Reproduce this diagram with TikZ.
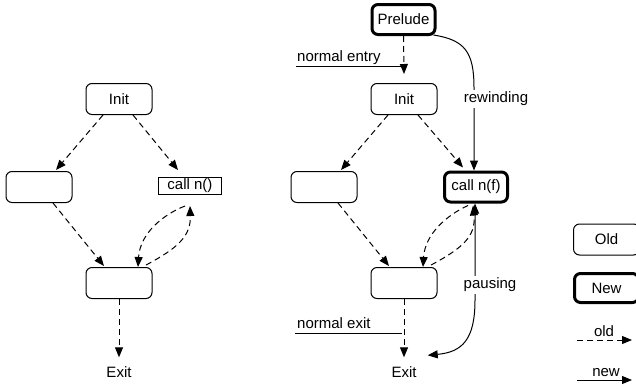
\documentclass[tikz,border=0pt]{standalone}
\usepackage{fontspec}
\setmainfont{Liberation Sans}
\usetikzlibrary{arrows.meta}
\begin{document}
\begin{tikzpicture}[x=1pt,y=-1pt,
  font=\fontsize{15}{18}\selectfont,
  >={Triangle[length=10pt,width=8pt]},
  oldbox/.style={draw,rounded corners=6pt,line width=1pt,minimum width=66pt,minimum height=31pt,inner sep=0pt},
  newbox/.style={draw,rounded corners=6pt,line width=3pt,minimum width=63pt,minimum height=30pt,inner sep=0pt},
  callbox/.style={draw,line width=1pt,minimum width=63pt,minimum height=17pt,inner sep=0pt},
  plain/.style={inner sep=0pt},
  oldflow/.style={->,line width=1pt,dash pattern=on 6pt off 4pt},
  newflow/.style={->,line width=1pt},
  thinline/.style={line width=1pt},
  tag/.style={fill=white,inner sep=2pt},
]
\clip (0,0) rectangle (636,388);

% ---------- original control flow ----------
\node[oldbox]  (init1) at (119,99)  {Init};
\node[oldbox]  (a1)    at (39,187)  {};
\node[callbox] (call1) at (190,186) {call n()};
\node[oldbox]  (b1)    at (119,283) {};
\node[plain]   (exit1) at (119,372) {Exit};

\draw[oldflow] ([xshift=-16pt]init1.south) -- ([xshift=17pt,yshift=1pt]a1.north);
\draw[oldflow] ([xshift=14pt]init1.south) -- ([xshift=-12pt,yshift=7pt]call1.north);
\draw[oldflow] ([xshift=14pt]a1.south) -- ([xshift=-15pt,yshift=1pt]b1.north);
\draw[oldflow] ([xshift=-5pt,yshift=-11pt]call1.south)
  .. controls (162,215) and (140,234) .. ([xshift=19pt]b1.north);
\draw[oldflow] ([xshift=27pt,yshift=2pt]b1.north)
  .. controls (178,248) and (191,236) .. ([yshift=-11pt]call1.south);
\draw[oldflow] (b1.south) -- ([yshift=9pt]exit1.north);

% ---------- transformed control flow ----------
\node[newbox] (prelude) at (403.5,19.5) {Prelude};
\node[oldbox] (init2)   at (404,99)   {Init};
\node[oldbox] (a2)      at (324,187)  {};
\node[newbox] (call2)   at (476,187)  {call n(f)};
\node[oldbox] (b2)      at (404,283)  {};
\node[plain]  (exit2)   at (404,372)  {Exit};

\draw[oldflow] (prelude.south) -- ([yshift=9pt]init2.north);
\draw[oldflow] ([xshift=-16pt]init2.south) -- ([xshift=17pt,yshift=1pt]a2.north);
\draw[oldflow] ([xshift=14pt]init2.south) -- ([xshift=-13pt,yshift=3pt]call2.north);
\draw[oldflow] ([xshift=14pt]a2.south) -- ([xshift=-15pt,yshift=1pt]b2.north);
\draw[oldflow] ([xshift=-8pt,yshift=-2pt]call2.south)
  .. controls (447,215) and (425,234) .. ([xshift=19pt]b2.north);
\draw[oldflow] ([xshift=27pt,yshift=2pt]b2.north)
  .. controls (463,248) and (476,236) .. ([xshift=-3pt,yshift=-2pt]call2.south);
\draw[oldflow] (b2.south) -- ([yshift=9pt]exit2.north);

% rewinding: prelude jumps straight to the call
\draw[newflow] ([xshift=-3pt,yshift=1pt]prelude.south east)
  .. controls (465,40) and (474,52) .. (474,88) -- ([xshift=-2pt]call2.north);
\node[tag] (rew) at (496,99) {rewinding};

% pausing: between the call and the exit
\draw[newflow,<->] ([xshift=-1pt]call2.south) -- (475,300)
  .. controls (475,340) and (462,352) .. ([xshift=11pt,yshift=11pt]exit2.north east);
\node[tag] (pau) at (490,285) {pausing};

% entry and exit markers
\coordinate (entryL) at (296,66);
\draw[thinline] (entryL) -- (entryL -| prelude.south);
\node[plain,anchor=base west] (entrytxt) at (297,61) {normal entry};
\coordinate (exitL) at (295,333);
\coordinate (exitR) at (402,333);
\draw[thinline] (exitL) -- (exitR);
\node[plain,anchor=base west] (exittxt) at (297,328) {normal exit};

% ---------- legend ----------
\node[oldbox] (lold) at (606.5,239.5) {Old};
\node[newbox,minimum width=64pt,minimum height=29pt] (lnew) at (606.5,288) {New};
\coordinate (oldL) at (577,340);
\coordinate (oldR) at (632,340);
\draw[oldflow] (oldL) -- (oldR);
\node[plain,anchor=base] (oldtxt) at (604,336) {old};
\coordinate (newL) at (577,380);
\coordinate (newR) at (632,380);
\draw[newflow] (newL) -- (newR);
\node[plain,anchor=base] (newtxt) at (606,376) {new};
\end{tikzpicture}
\end{document}
